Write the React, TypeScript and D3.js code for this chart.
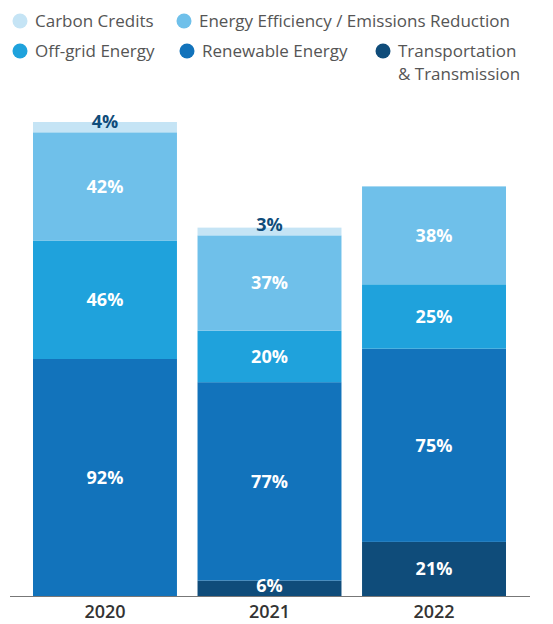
import React from "react";
import * as d3 from "d3";

const years = ["2020", "2021", "2022"];
const seriesNames = [
  "Transportation & Transmission",
  "Renewable Energy",
  "Off-grid Energy",
  "Energy Efficiency / Emissions Reduction",
  "Carbon Credits",
];
const transportation = [0, 6, 21];
const renewable = [92, 77, 75];
const offGrid = [46, 20, 25];
const efficiency = [42, 37, 38];
const carbon = [4, 3, 0];
const colors = ["#0f4c7a", "#1273bb", "#1fa2dc", "#6fc0ea", "#c5e4f5"];

const W = 553;
const H = 624;
const baseY = 596;

export default function App() {
  const seriesVals = [transportation, renewable, offGrid, efficiency, carbon];
  const rows = years.map((y, i) => {
    const r: any = { year: y };
    seriesNames.forEach((s, k) => (r[s] = seriesVals[k][i]));
    return r;
  });
  const stack = d3.stack().keys(seriesNames)(rows as any);
  const x = d3.scaleBand().domain(years).range([33, 506]).paddingInner(0.125).paddingOuter(0.0);
  const y = d3.scaleLinear().domain([0, 184]).range([baseY, 122]);
  const font = "'Open Sans', sans-serif";

  const legend = [
    { k: 4, cx: 20, cy: 21, tx: 35, lines: ["Carbon Credits"] },
    { k: 3, cx: 184, cy: 21, tx: 199, lines: ["Energy Efficiency / Emissions Reduction"] },
    { k: 2, cx: 20, cy: 51, tx: 35, lines: ["Off-grid Energy"] },
    { k: 1, cx: 187, cy: 51, tx: 202, lines: ["Renewable Energy"] },
    { k: 0, cx: 383, cy: 51, tx: 398, lines: ["Transportation", "& Transmission"] },
  ];

  return (
    <svg width={W} height={H} style={{ position: "absolute", left: 0, top: 0 }} fontFamily={font}>
      {legend.map((l, i) => (
        <g key={i}>
          <circle cx={l.cx} cy={l.cy} r={7.5} fill={colors[l.k]} />
          {l.lines.map((t, j) => (
            <text key={j} x={l.tx} y={l.cy + j * 23} dy="0.35em" fontSize={17} fill="#555">
              {t}
            </text>
          ))}
        </g>
      ))}
      {stack.map((s, k) =>
        s.map((d, i) => {
          const v = d[1] - d[0];
          if (v <= 0) return null;
          const x0 = x(years[i])!;
          const y0 = y(d[0]);
          const y1 = y(d[1]);
          return (
            <rect key={`${k}-${i}`} x={x0} y={y1} width={x.bandwidth()} height={y0 - y1} fill={colors[k]} />
          );
        })
      )}
      {stack.map((s, k) =>
        s.map((d, i) => {
          const v = d[1] - d[0];
          if (v <= 0) return null;
          const cx = x(years[i])! + x.bandwidth() / 2;
          const y0 = y(d[0]);
          const y1 = y(d[1]);
          const small = y0 - y1 < 22;
          const isTop = k === 4;
          return (
            <text
              key={`t${k}-${i}`}
              x={cx}
              y={small ? y0 - 4 : (y0 + y1) / 2}
              dy={small ? 0 : "0.35em"}
              textAnchor="middle"
              fontSize={18}
              fontWeight={700}
              fill={isTop ? "#0f4c7a" : "#fff"}
            >
              {v}%
            </text>
          );
        })
      )}
      <line x1={10} x2={530} y1={baseY + 0.5} y2={baseY + 0.5} stroke="#777" strokeWidth={1} />
      {years.map((yr) => (
        <text
          key={yr}
          x={x(yr)! + x.bandwidth() / 2}
          y={618}
          textAnchor="middle"
          fontSize={18}
          fontWeight={600}
          fill="#333"
        >
          {yr}
        </text>
      ))}
    </svg>
  );
}
